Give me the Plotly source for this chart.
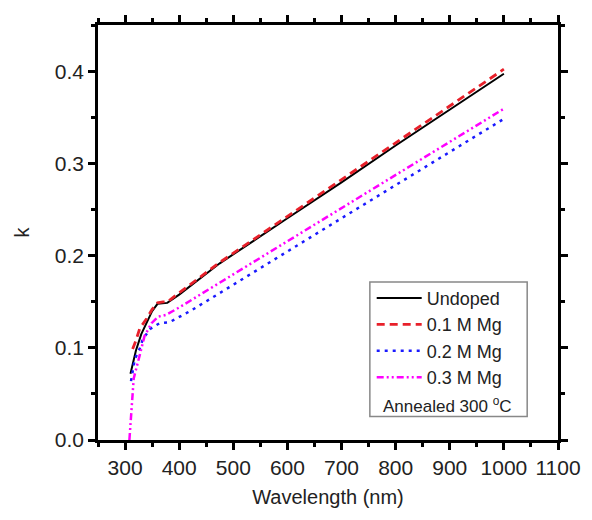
import plotly.graph_objects as go

# Data
wl_undoped = [310, 320, 330, 340, 350, 360, 370, 378, 400, 475, 600, 700, 800, 900, 1000]
k_undoped = [0.072, 0.097, 0.115, 0.128, 0.140, 0.148, 0.149, 0.149, 0.158, 0.192, 0.241, 0.280, 0.320, 0.359, 0.398]

wl_01 = [314, 320, 327, 340, 350, 360, 370, 378, 400, 475, 600, 700, 800, 900, 1000]
k_01 = [0.099, 0.108, 0.121, 0.132, 0.142, 0.149, 0.150, 0.150, 0.160, 0.193, 0.243, 0.283, 0.323, 0.363, 0.403]

wl_02 = [311, 318, 327, 333, 347, 364, 382, 401, 420, 462, 613, 700, 800, 900, 1000]
k_02 = [0.064, 0.088, 0.099, 0.110, 0.121, 0.127, 0.128, 0.134, 0.140, 0.155, 0.210, 0.241, 0.277, 0.313, 0.349]

wl_03 = [308, 312, 316, 327, 336, 349, 361, 376, 400, 500, 600, 700, 800, 900, 1000]
k_03 = [0.0, 0.035, 0.067, 0.092, 0.113, 0.127, 0.134, 0.136, 0.144, 0.180, 0.216, 0.252, 0.288, 0.324, 0.360]

names = ["Undoped", "0.1 M Mg", "0.2 M Mg", "0.3 M Mg"]
x_ticks = [300, 400, 500, 600, 700, 800, 900, 1000, 1100]
y_ticks = [0.0, 0.1, 0.2, 0.3, 0.4]

FONT = "Liberation Sans, Arial, sans-serif"
TXT = "#222"

fig = go.Figure()
fig.add_trace(go.Scatter(x=wl_undoped, y=k_undoped, mode="lines", name=names[0],
                         line=dict(color="black", width=2)))
fig.add_trace(go.Scatter(x=wl_01, y=k_01, mode="lines", name=names[1],
                         line=dict(color="#e8202a", width=2.8, dash="8px,5px")))
fig.add_trace(go.Scatter(x=wl_02, y=k_02, mode="lines", name=names[2],
                         line=dict(color="#1a1aff", width=2.5, dash="3px,5px")))
fig.add_trace(go.Scatter(x=wl_03, y=k_03, mode="lines", name=names[3],
                         line=dict(color="#ff00ff", width=2.5, dash="7px,3px,2px,3px,2px,3px")))

axis_common = dict(
    showline=True, linecolor="black", linewidth=2.5, mirror="ticks",
    ticks="outside", ticklen=7, tickwidth=2.5, tickcolor="black",
    showgrid=False, zeroline=False,
    tickfont=dict(family=FONT, size=21, color=TXT),
)

fig.update_xaxes(
    range=[250, 1100], tickvals=x_ticks, ticktext=[str(v) for v in x_ticks],
    minor=dict(ticks="outside", ticklen=4, tickwidth=2.5, tickcolor="black", dtick=50, tick0=250),
    title=dict(text="Wavelength (nm)", font=dict(family=FONT, size=20, color=TXT), standoff=13),
    **axis_common,
)
fig.update_yaxes(
    range=[0, 0.451], tickvals=y_ticks, ticktext=[f"{v:.1f}" for v in y_ticks],
    minor=dict(ticks="outside", ticklen=4, tickwidth=2.5, tickcolor="black", dtick=0.05, tick0=0),
    title=dict(text="k", font=dict(family=FONT, size=20, color=TXT), standoff=20),
    **axis_common,
)

fig.add_shape(type="rect", xref="paper", yref="paper",
              x0=0.591, x1=0.933, y0=0.0565, y1=0.381,
              line=dict(color="#888", width=1.5), fillcolor="rgba(0,0,0,0)")
fig.add_annotation(text="Annealed 300 <sup>o</sup>C", xref="paper", yref="paper",
                   x=0.615, y=0.085, xanchor="left", yanchor="middle", showarrow=False,
                   font=dict(family=FONT, size=17, color=TXT))

fig.update_layout(
    width=592, height=520,
    margin=dict(l=90, r=42, t=7, b=88),
    paper_bgcolor="white", plot_bgcolor="white",
    showlegend=True,
    legend=dict(x=0.595, y=0.386, xanchor="left", yanchor="top",
                bgcolor="rgba(0,0,0,0)", borderwidth=0, itemwidth=45,
                font=dict(family=FONT, size=18, color=TXT), tracegroupgap=0),
)

fig.write_html("out.html")
